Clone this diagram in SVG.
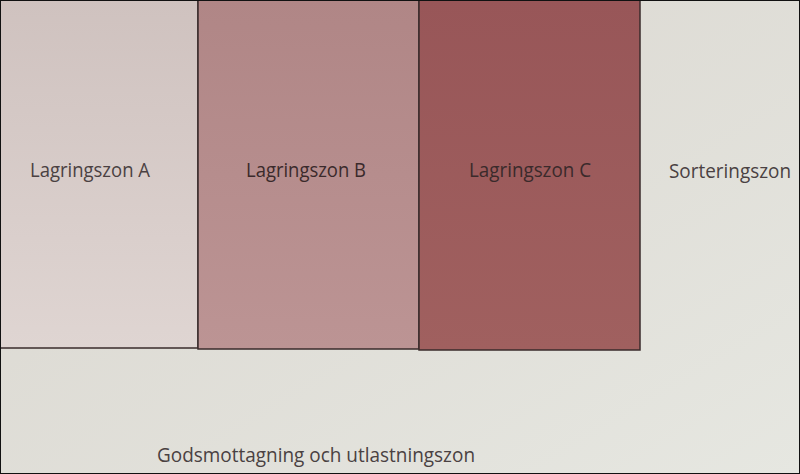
<svg xmlns="http://www.w3.org/2000/svg" width="800" height="474" viewBox="0 0 800 474">
  <defs>
    <linearGradient id="bg" x1="0" y1="0" x2="1" y2="1">
      <stop offset="0" stop-color="#d9d5ce"/>
      <stop offset="1" stop-color="#e6e7e1"/>
    </linearGradient>
    <linearGradient id="gA" x1="0" y1="0" x2="0" y2="1">
      <stop offset="0" stop-color="#cfc2bf"/>
      <stop offset="1" stop-color="#dfd5d2"/>
    </linearGradient>
    <linearGradient id="gB" x1="0" y1="0" x2="0" y2="1">
      <stop offset="0" stop-color="#b08686"/>
      <stop offset="1" stop-color="#bc9494"/>
    </linearGradient>
    <linearGradient id="gC" x1="0" y1="0" x2="0" y2="1">
      <stop offset="0" stop-color="#985658"/>
      <stop offset="1" stop-color="#a0605f"/>
    </linearGradient>
  </defs>
  <style>
    .zone { stroke: #3a2b2b; stroke-width: 1.5; }
    .lbl { font-family: "Open Sans", "Noto Sans", "Liberation Sans", sans-serif; font-size: 20px; fill: #4a4142; text-anchor: middle; }
    .dark { fill: #3a2a2b; }
  </style>
  <rect x="0" y="0" width="800" height="474" fill="url(#bg)"/>
  <g id="zone-a">
    <rect class="zone" x="0" y="0" width="198" height="348" fill="url(#gA)"/>
    <text class="lbl" x="90" y="177" textLength="120" lengthAdjust="spacingAndGlyphs">Lagringszon A</text>
  </g>
  <g id="zone-b">
    <rect class="zone" x="198" y="0" width="221" height="349" fill="url(#gB)"/>
    <text class="lbl dark" x="306" y="177" textLength="120" lengthAdjust="spacingAndGlyphs">Lagringszon B</text>
  </g>
  <g id="zone-c">
    <rect class="zone" x="419" y="0" width="221" height="350" fill="url(#gC)"/>
    <text class="lbl dark" x="530" y="177" textLength="122" lengthAdjust="spacingAndGlyphs">Lagringszon C</text>
  </g>
  <g id="zone-sort">
    <text class="lbl" x="730" y="178" textLength="122" lengthAdjust="spacingAndGlyphs">Sorteringszon</text>
  </g>
  <g id="zone-gods">
    <text class="lbl" x="316" y="462" font-size="21" textLength="318" lengthAdjust="spacingAndGlyphs">Godsmottagning och utlastningszon</text>
  </g>
  <g id="connectors"></g>
  <rect x="0.5" y="0.5" width="799" height="473" fill="none" stroke="#111" stroke-width="1"/>
</svg>
